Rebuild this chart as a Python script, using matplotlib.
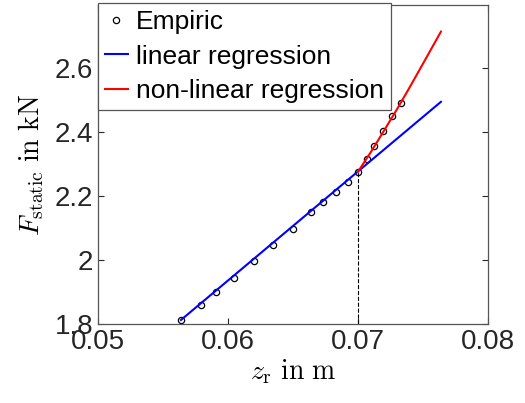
import matplotlib
matplotlib.use("Agg")
import matplotlib.pyplot as plt

# measured points
z_emp = [0.05638, 0.0579, 0.0591, 0.06046, 0.06202, 0.06343, 0.06497, 0.06638,
         0.06733, 0.06828, 0.06923, 0.0700, 0.07067, 0.07123, 0.07195, 0.07265, 0.07331]
F_emp = [1.8125, 1.859, 1.901, 1.945, 1.996, 2.045, 2.097, 2.148,
         2.181, 2.2125, 2.244, 2.275, 2.315, 2.356, 2.403, 2.448, 2.49]

# linear fit line
z_lin = [0.05638, 0.07638]
F_lin = [1.8125, 2.493]

# non-linear fit curve
z_nl = [0.0700, 0.0710, 0.0720, 0.0730, 0.0740, 0.0750, 0.07638]
F_nl = [2.275, 2.337, 2.403, 2.470, 2.540, 2.612, 2.712]

# switch point
z_sw = 0.07
F_sw = 2.275

xticks = [0.05, 0.06, 0.07, 0.08]
xticklabels = ["0.05", "0.06", "0.07", "0.08"]
yticks = [1.8, 2.0, 2.2, 2.4, 2.6]
yticklabels = ["1.8", "2", "2.2", "2.4", "2.6"]

plt.rcParams['font.family'] = ['Liberation Sans', 'DejaVu Sans']
plt.rcParams['mathtext.fontset'] = 'cm'

fig = plt.figure(figsize=(5.25, 4.03), dpi=100)
ax = fig.add_axes([98/525, 1 - 324/403, 390/525, 319/403])

ax.plot([z_sw, z_sw], [1.8, F_sw], 'k--', lw=0.8)
ax.plot(z_emp, F_emp, 'o', mfc='none', mec='k', ms=4.5, mew=0.9, label='Empiric')
ax.plot(z_lin, F_lin, '-', color='#0000ff', lw=1.5, label='linear regression')
ax.plot(z_nl, F_nl, '-', color='#ff0000', lw=1.5, label='non-linear regression')

ax.set_xlim(0.05, 0.08)
ax.set_ylim(1.8, 2.795)
ax.set_xticks(xticks)
ax.set_xticklabels(xticklabels)
ax.set_yticks(yticks)
ax.set_yticklabels(yticklabels)
ax.tick_params(direction='in', top=True, right=True, labelsize=20,
               colors='#262626', length=4, width=0.8)
for s in ax.spines.values():
    s.set_color('#555555')
    s.set_linewidth(0.9)

ax.set_xlabel(r'$z_{\mathrm{r}}\ \mathrm{in\ m}$', fontsize=20, labelpad=2)
ax.set_ylabel(r'$F_{\mathrm{static}}\ \mathrm{in\ kN}$', fontsize=20, labelpad=6)

leg = ax.legend(loc='upper left', bbox_to_anchor=(0.0, 1.005), borderaxespad=0,
                fontsize=19, handlelength=0.9, handletextpad=0.3, labelspacing=0.4,
                borderpad=0.25, fancybox=False, framealpha=1, edgecolor='#555555')
leg.get_frame().set_linewidth(0.9)

fig.savefig('out.png', dpi=100)
